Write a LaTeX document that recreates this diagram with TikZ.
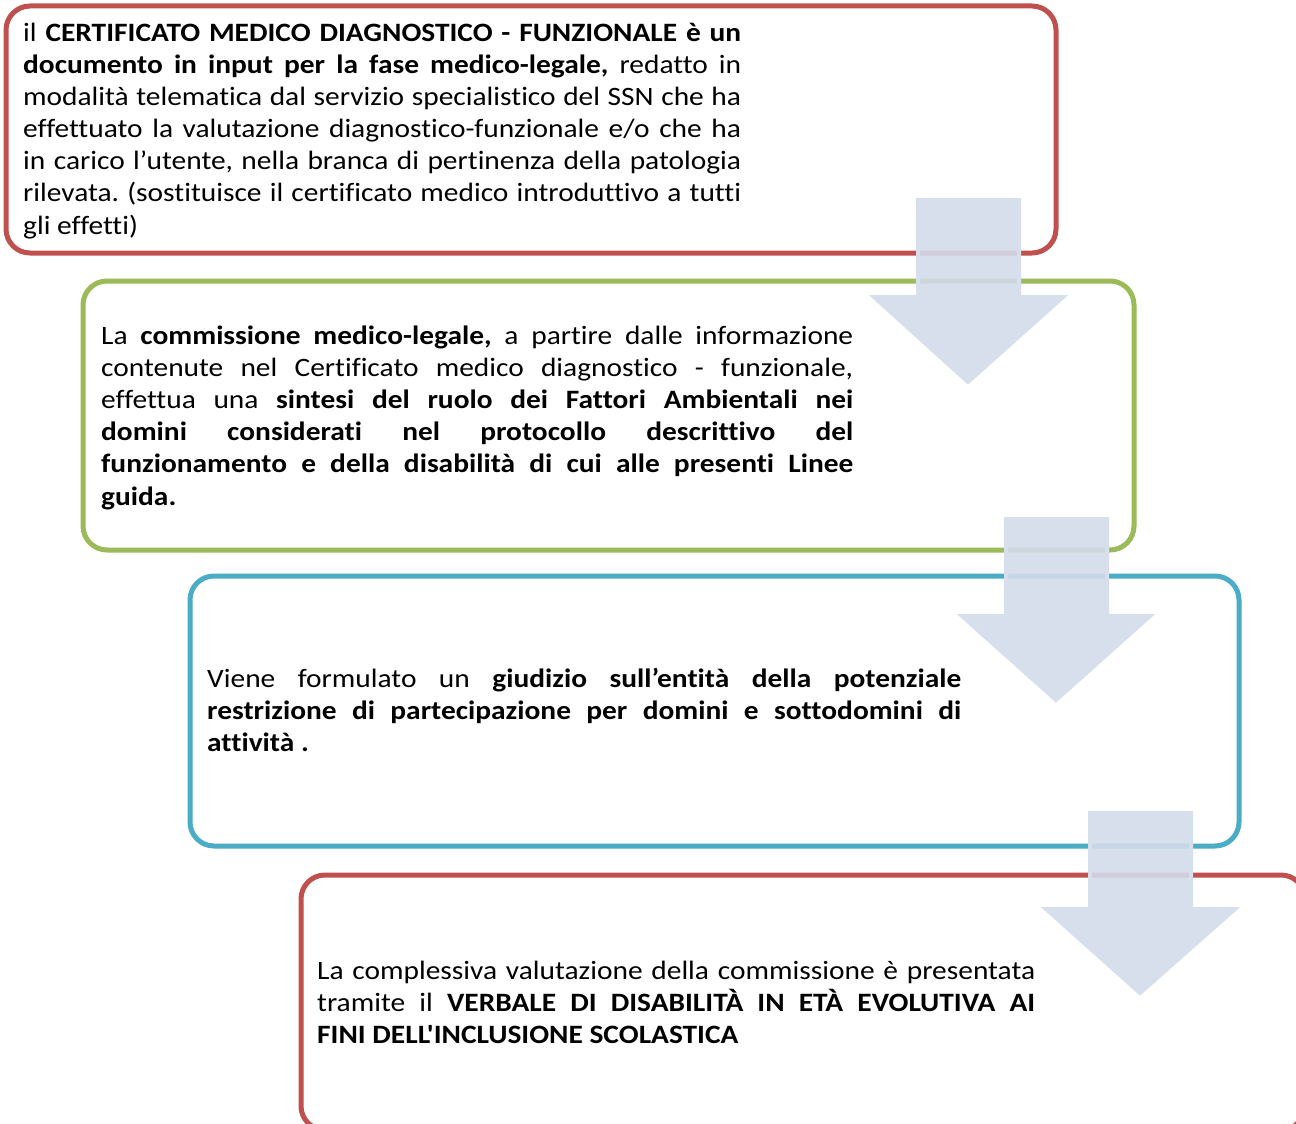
\documentclass[tikz,border=0pt]{standalone}
\usepackage{fontspec}
\setmainfont{Carlito}[Ligatures={TeXOff,NoCommon}, FakeStretch=1.11]
\definecolor{bred}{HTML}{C0504D}
\definecolor{bgreen}{HTML}{9BBB59}
\definecolor{bblue}{HTML}{4BACC6}
\definecolor{arrfill}{HTML}{D3DBEA}
\definecolor{arrline}{HTML}{D8DFEC}
\tikzset{
  box/.style={line width=5pt, rounded corners=24pt},
  txt/.style={anchor=base west, inner sep=0pt, align=left,
    font=\fontsize{26.5}{32.1}\selectfont},
  bigarrow/.style={fill=arrfill, fill opacity=0.9, draw=arrline, line width=4pt, line join=miter}
}
\newcommand\jl[2]{\makebox[#1][s]{\spaceskip=0.23em plus 1fil\relax #2}\\}
\newcommand\resetsp{\frenchspacing\spaceskip=0pt\relax\xspaceskip=0pt\relax}
\begin{document}
\begin{tikzpicture}[x=1pt,y=-1pt]
\useasboundingbox (0,0) rectangle (1296,1124);
\clip (0,0) rectangle (1296,1124);
\fill[white] (0,0) rectangle (1296,1124);
% boxes
\draw[box, bred] (6,6) rectangle (1056,253);
\draw[box, bgreen] (83,281) rectangle (1134,550);
\draw[box, bblue] (190,576) rectangle (1239,846);
\draw[box, bred] (301,875) rectangle (1305,1130);
% texts
\node[txt, text width=718pt] (t1) at (23,41.5) {\resetsp
\jl{718pt}{il \textbf{CERTIFICATO MEDICO DIAGNOSTICO - FUNZIONALE è un}}%
\jl{718pt}{\textbf{documento in input per la fase medico-legale,} redatto in}%
\jl{718pt}{modalità telematica dal servizio specialistico del SSN che ha}%
\jl{718pt}{effettuato la valutazione diagnostico-funzionale e/o che ha}%
\jl{718pt}{in carico l’utente, nella branca di pertinenza della patologia}%
\jl{718pt}{rilevata. (sostituisce il certificato medico introduttivo a tutti}%
gli effetti)};
\node[txt, text width=752pt] (t2) at (101,344.5) {\resetsp
\jl{752pt}{La \textbf{commissione medico-legale,} a partire dalle informazione}%
\jl{752pt}{contenute nel Certificato medico diagnostico - funzionale,}%
\jl{752pt}{effettua una \textbf{sintesi del ruolo dei Fattori Ambientali nei}}%
\jl{752pt}{\textbf{domini considerati nel protocollo descrittivo del}}%
\jl{752pt}{\textbf{funzionamento e della disabilità di cui alle presenti Linee}}%
\textbf{guida.}};
\node[txt, text width=754pt] (t3) at (207,687.5) {\resetsp
\jl{754pt}{Viene formulato un \textbf{giudizio sull’entità della potenziale}}%
\jl{754pt}{\textbf{restrizione di partecipazione per domini e sottodomini di}}%
\textbf{attività .}};
\node[txt, text width=718pt] (t4) at (317,979.5) {\resetsp
\jl{718pt}{La complessiva valutazione della commissione è presentata}%
\jl{718pt}{tramite il \textbf{VERBALE DI DISABILITÀ IN ETÀ EVOLUTIVA AI}}%
\textbf{FINI DELL'INCLUSIONE SCOLASTICA}};
% arrows
\draw[bigarrow] (918,200) -- (1019,200) -- (1019,297) -- (1063,297) -- (968,382) -- (874,297) -- (918,297) -- cycle;
\draw[bigarrow] (1006,519) -- (1107,519) -- (1107,616) -- (1150,616) -- (1056,700) -- (962,616) -- (1006,616) -- cycle;
\draw[bigarrow] (1090,813) -- (1191,813) -- (1191,909) -- (1235,909) -- (1140,993) -- (1046,909) -- (1090,909) -- cycle;
\end{tikzpicture}
\end{document}
